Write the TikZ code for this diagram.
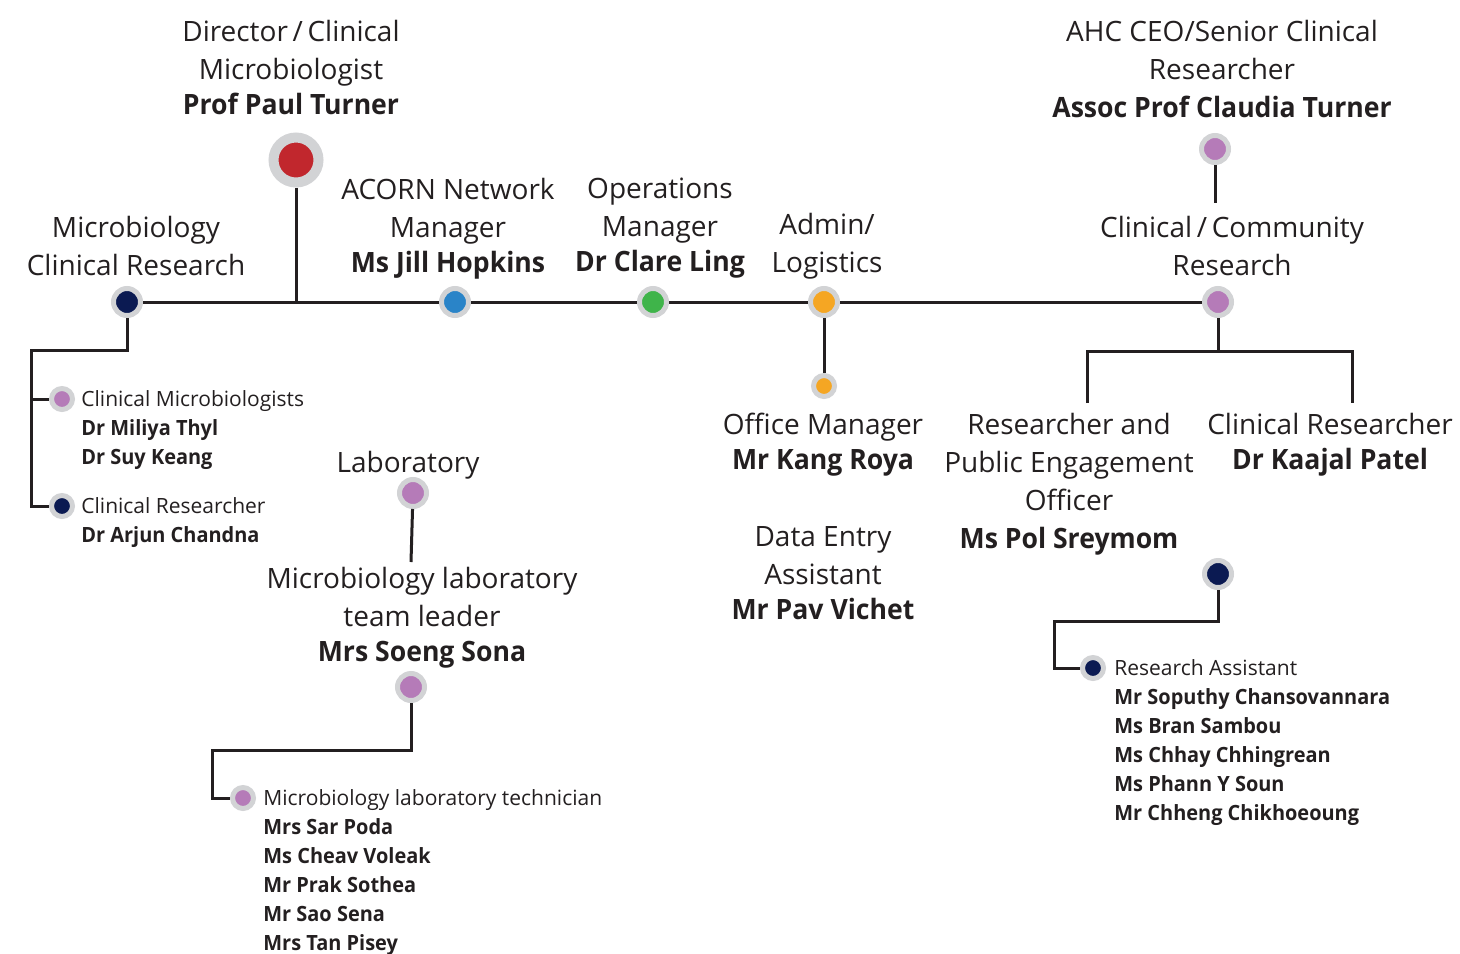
\documentclass[tikz,border=0pt]{standalone}
\usepackage{fontspec}
\setmainfont{Open Sans}[BoldFeatures={FakeStretch=0.95}]
\usetikzlibrary{positioning}
\definecolor{inkDark}{HTML}{231F20}
\definecolor{ringGrey}{HTML}{D2D3D5}
\definecolor{dotRed}{HTML}{C1272D}
\definecolor{dotNavy}{HTML}{0B1A52}
\definecolor{dotBlue}{HTML}{2A84C8}
\definecolor{dotGreen}{HTML}{3FB44A}
\definecolor{dotOrange}{HTML}{F5A623}
\definecolor{dotPurple}{HTML}{B57BB8}
\newcommand{\lineWidth}{1.5pt}
\newcommand{\bigFont}{\fontsize{14}{19}\selectfont}
\newcommand{\smallFont}{\fontsize{10.5}{14.5}\selectfont}
\newcommand{\nameLine}[1]{\\[-1.5pt]\textbf{#1}}

\begin{document}
\begin{tikzpicture}[x=0.5pt,y=-0.5pt,
  headdot/.style={circle,draw=ringGrey,line width=5pt,minimum size=22.5pt,inner sep=0pt},
  bigdot/.style={circle,draw=ringGrey,line width=2.5pt,minimum size=13.5pt,inner sep=0pt},
  smalldot/.style={circle,draw=ringGrey,line width=2.5pt,minimum size=10.5pt,inner sep=0pt},
  link/.style={draw=inkDark,line width=\lineWidth},
  title/.style={font=\bigFont,text=inkDark,align=center,anchor=north,inner sep=0pt},
  staff/.style={font=\smallFont,text=inkDark,align=left,anchor=north west,inner sep=0pt}]
\useasboundingbox (0,0) rectangle (1460,953);

% dots
\node[headdot,fill=dotRed]    (dir)    at (296,160) {};
\node[bigdot,fill=dotPurple]  (ceo)    at (1215,149) {};
\node[bigdot,fill=dotNavy]    (mcr)    at (127,302) {};
\node[bigdot,fill=dotBlue]    (acorn)  at (455,302) {};
\node[bigdot,fill=dotGreen]   (ops)    at (653,302) {};
\node[bigdot,fill=dotOrange]  (admin)  at (824,302) {};
\node[bigdot,fill=dotPurple]  (clin)   at (1218,302) {};
\node[smalldot,fill=dotOrange] (office) at (824,386) {};
\node[smalldot,fill=dotPurple] (cmic)  at (62,399) {};
\node[smalldot,fill=dotNavy]  (cres)   at (62,506) {};
\node[bigdot,fill=dotPurple]  (lab)    at (413,493) {};
\node[bigdot,fill=dotPurple]  (sona)   at (411,687) {};
\node[smalldot,fill=dotPurple] (tech)  at (243,798) {};
\node[bigdot,fill=dotNavy]    (pol)    at (1218,574) {};
\node[smalldot,fill=dotNavy]  (ra)     at (1093,668) {};

% elbows and loose ends
\coordinate (mcrKnee)  at (31,350);
\coordinate (ceoEnd)   at (1215,203);
\coordinate (clinKnee) at (1218,351);
\coordinate (pubTop)   at (1087,403);
\coordinate (kaaTop)   at (1352,403);
\coordinate (labEnd)   at (411,562);
\coordinate (sonaKnee) at (212,750);
\coordinate (polKnee)  at (1054,621);

% connectors
\draw[link] (mcr) -- (acorn) -- (ops) -- (admin) -- (clin);
\draw[link] (dir) -- (dir |- mcr);
\draw[link] (ceo) -- (ceoEnd);
\draw[link] (admin) -- (office);
\draw[link] (mcr) |- (mcrKnee) |- (cres);
\draw[link] (mcrKnee |- cmic) -- (cmic);
\draw[link] (clin) -- (clinKnee);
\draw[link] (pubTop) |- (clinKnee) -| (kaaTop);
\draw[link] (lab) -- (labEnd);
\draw[link] (sona) |- (sonaKnee) |- (tech);
\draw[link] (pol) |- (polKnee) |- (ra);

% titles
\node[title] (dirText)   at (291,20)   {Director\,/\,Clinical\\Microbiologist\nameLine{Prof Paul Turner}};
\node[title] (ceoText)   at (1222,20)  {AHC CEO/Senior Clinical\\Researcher\\\textbf{Assoc Prof Claudia Turner}};
\node[title] (mcrText)   at (136,216)  {Microbiology\\Clinical Research};
\node[title] (acornText) at (448,178)  {ACORN Network\\Manager\nameLine{Ms Jill Hopkins}};
\node[title] (opsText)   at (660,178)  {Operations\\Manager\nameLine{Dr Clare Ling}};
\node[title] (adminText) at (827,213)  {Admin/\\Logistics};
\node[title] (clinText)  at (1232,216) {Clinical\,/\,Community\\Research};
\node[title] (offText)   at (823,413)  {Office Manager\nameLine{Mr Kang Roya}};
\node[title] (dataText)  at (823,526)  {Data Entry\\Assistant\nameLine{Mr Pav Vichet}};
\node[title] (pubText)   at (1069,413) {Researcher and\\Public Engagement\\Officer\\\textbf{Ms Pol Sreymom}};
\node[title] (kaaText)   at (1330,413) {Clinical Researcher\nameLine{Dr Kaajal Patel}};
\node[title] (labText)   at (408,451)  {Laboratory};
\node[title] (sonaText)  at (422,567)  {Microbiology laboratory\\team leader\nameLine{Mrs Soeng Sona}};

% staff lists
\node[staff] (cmicText) at (81,390)   {Clinical Microbiologists\\\textbf{Dr Miliya Thyl}\\\textbf{Dr Suy Keang}};
\node[staff] (cresText) at (81,497)   {Clinical Researcher\\\textbf{Dr Arjun Chandna}};
\node[staff] (techText) at (263,789)  {Microbiology laboratory technician\\\textbf{Mrs Sar Poda}\\\textbf{Ms Cheav Voleak}\\\textbf{Mr Prak Sothea}\\\textbf{Mr Sao Sena}\\\textbf{Mrs Tan Pisey}};
\node[staff] (raText)   at (1114,659) {Research Assistant\\\textbf{Mr Soputhy Chansovannara}\\\textbf{Ms Bran Sambou}\\\textbf{Ms Chhay Chhingrean}\\\textbf{Ms Phann Y Soun}\\\textbf{Mr Chheng Chikhoeoung}};
\end{tikzpicture}
\end{document}
